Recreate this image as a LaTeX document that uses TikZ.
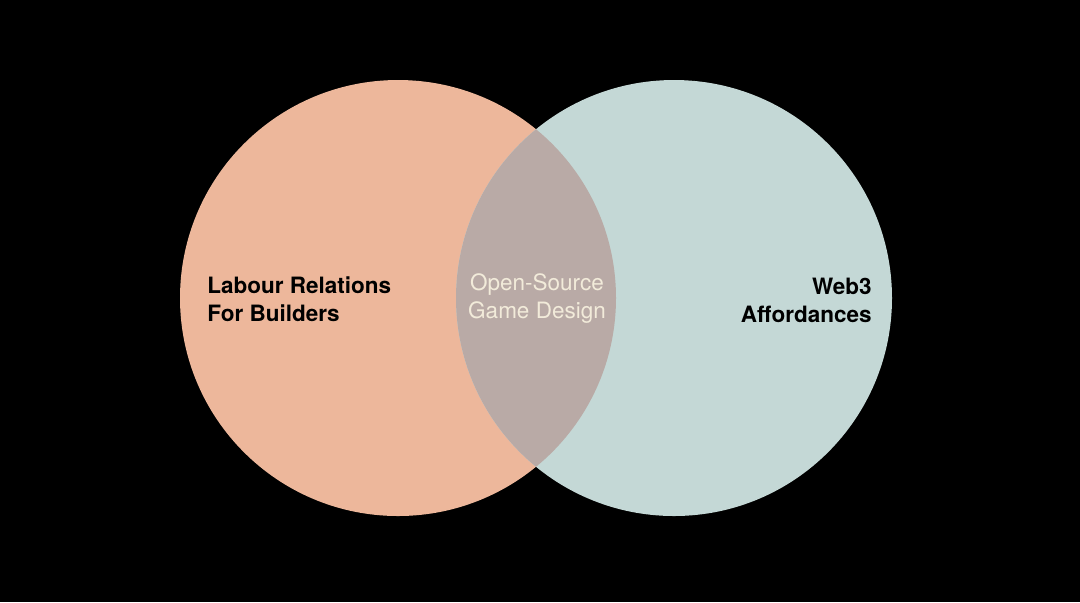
\documentclass[tikz,border=0pt]{standalone}
\usepackage{fontspec}
\setmainfont{TeX Gyre Heros}
\usetikzlibrary{positioning}
\definecolor{salmon}{HTML}{EDB79B}
\definecolor{seafoam}{HTML}{C4D8D6}
\definecolor{overlap}{HTML}{B9AAA6}
\definecolor{cream}{HTML}{F2EBDA}

\begin{document}
\begin{tikzpicture}[x=0.5pt,y=-0.5pt,font=\fontsize{11.25}{14}\selectfont]
\tikzset{
  setc/.style={circle,minimum size=218pt,inner sep=0pt},
  lbl/.style={inner sep=0pt,font=\fontsize{11.25}{14}\selectfont\bfseries,text=black},
  mid/.style={inner sep=0pt,align=center,text=cream}
}
\fill[black](0,0)rectangle(1080,602);
\node(labour)[setc,fill=salmon]at(398,298){};
\node(web)[setc,fill=seafoam]at(674,298){};
\begin{scope}
  \clip(398,298)circle(218);
  \fill[overlap](674,298)circle(218);
\end{scope}
\node(lt)[lbl,align=left,anchor=west]at(207,299){Labour Relations\\For Builders};
\node(ot)[mid]at(537,299){Open-Source\\Game Design};
\node(wt)[lbl,align=right,anchor=east]at(872,300){Web3\\Affordances};
\end{tikzpicture}
\end{document}
